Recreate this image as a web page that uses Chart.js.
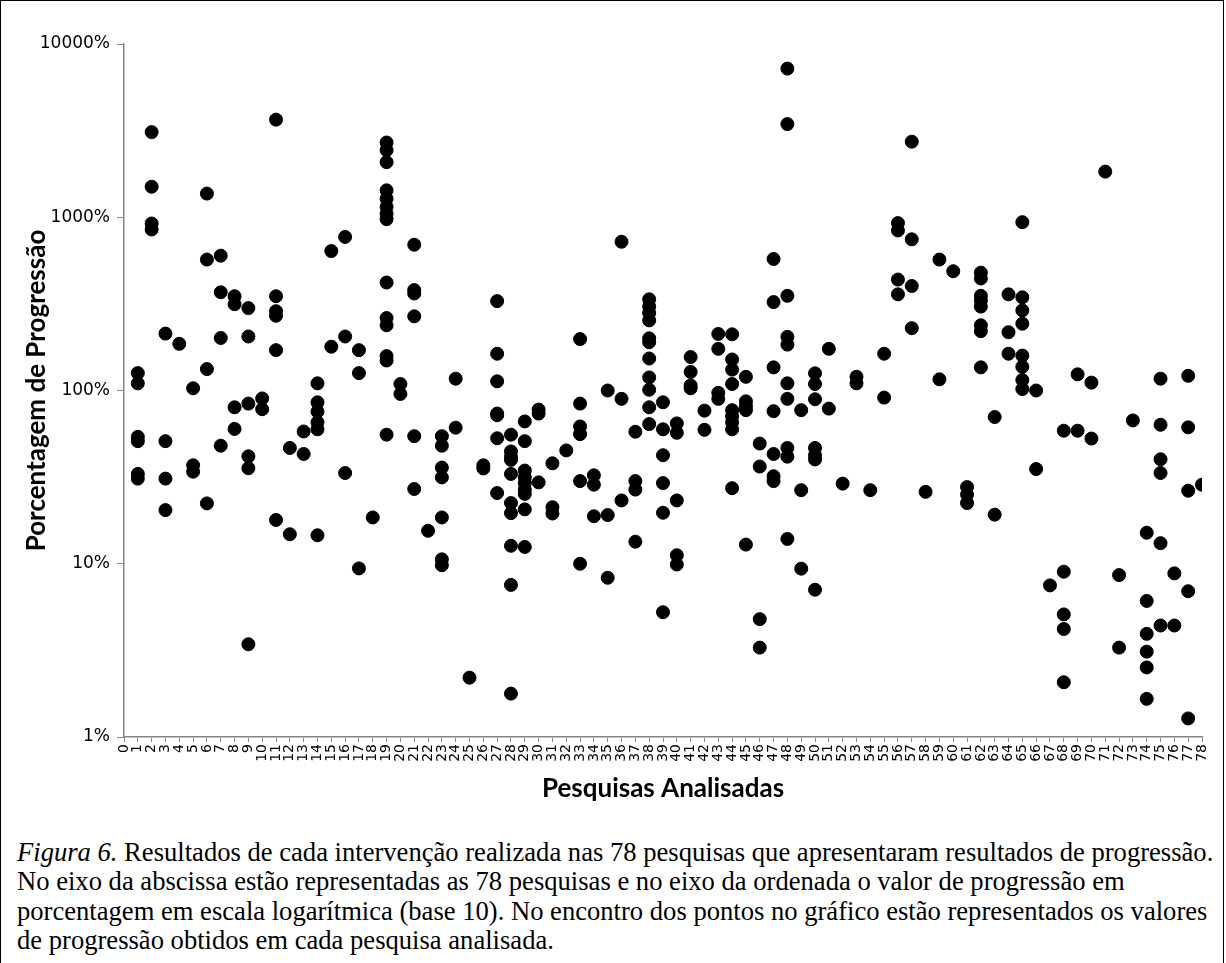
<!DOCTYPE html>
<html>
<head>
<meta charset="utf-8">
<script src="https://cdn.jsdelivr.net/npm/chart.js@4.4.0/dist/chart.umd.min.js"></script>
<style>
body { margin: 0; width: 1226px; height: 963px; overflow: hidden; background: #fff; position: relative; }
#frame { position: absolute; left: 0; top: 0; width: 1222px; height: 980px; border: 1.5px solid #000; }
#chart1 { position: absolute; left: 0; top: 0; }
#caption { position: absolute; left: 17px; top: 838px; font-family: "Liberation Serif", "Times New Roman", serif;
  font-size: 26.6px; line-height: 29.3px; white-space: nowrap; color: #000; }
</style>
</head>
<body>
<div id="frame"></div>
<canvas id="chart1" width="1226" height="810"></canvas>
<div id="caption"><i>Figura 6.</i> Resultados de cada intervenção realizada nas 78 pesquisas que apresentaram resultados de progressão.<br>No eixo da abscissa estão representadas as 78 pesquisas e no eixo da ordenada o valor de progressão em<br>porcentagem em escala logarítmica (base 10). No encontro dos pontos no gráfico estão representados os valores<br>de progressão obtidos em cada pesquisa analisada.</div>
<script>
// valores de progressao (%), indice = numero da pesquisa
const progressao = [
  [],
  [126, 110, 54, 51, 33, 31],
  [3100, 1500, 920, 850],
  [213, 51, 31, 20.4],
  [186],
  [103, 37, 34],
  [1370, 570, 133, 22.3],
  [600, 369, 201, 48],
  [350, 315, 80, 60],
  [299, 205, 84, 41.7, 35.6, 3.43],
  [90, 78],
  [3660, 350, 287, 270, 171, 17.9],
  [46.6, 14.8],
  [58, 43],
  [110, 85.5, 75.5, 65.5, 59.7, 14.6],
  [638, 179],
  [770, 205, 33.4],
  [171, 126, 9.4],
  [18.5],
  [2700, 2440, 2080, 1430, 1280, 1150, 1050, 975, 420, 262, 238, 158, 149, 55.6],
  [109, 95.5],
  [694, 380, 363, 268, 54.5, 27],
  [15.5],
  [54.5, 48, 35.9, 31.5, 18.5, 10.6, 9.8],
  [117, 61],
  [2.2],
  [37, 35.5],
  [328, 163, 113, 73.6, 72, 53, 25.6],
  [55.6, 44.5, 41.5, 39.8, 33, 22.4, 19.6, 12.7, 7.55, 1.78],
  [66.3, 51, 34.5, 31.5, 29.2, 26.8, 25.3, 20.6, 12.5],
  [77.6, 73.6, 29.5],
  [38, 21.2, 19.5],
  [45.1],
  [198, 84, 62, 56, 30, 10],
  [32.4, 28.6, 18.8],
  [100, 19.1, 8.3],
  [722, 89.5, 23.2],
  [57.8, 30, 26.8, 13.4],
  [336, 305, 280, 254, 200, 190, 153, 119, 101, 80, 64],
  [85.5, 59.7, 42.3, 29.2, 19.7, 5.25],
  [64.6, 57, 23.2, 11.2, 9.9],
  [156, 128, 107, 103],
  [76.5, 59.3],
  [212, 174, 97, 89.5],
  [211, 151, 132, 109, 77, 71, 65.5, 59.7, 27.3],
  [120, 86.6, 81.2, 77, 12.9],
  [49.4, 36.4, 4.79, 3.28],
  [574, 324, 136, 76, 43, 32, 30],
  [7210, 3450, 352, 204, 184, 110, 89.5, 46.6, 41.5, 13.9],
  [77, 26.6, 9.37],
  [125.6, 109, 89, 46.6, 42.3, 40, 7.08],
  [174, 78.6],
  [29],
  [120, 110],
  [26.6],
  [163, 91],
  [925, 839, 437, 359],
  [2730, 746, 401, 229],
  [26],
  [570, 116],
  [488],
  [27.7, 25.1, 22.4],
  [479, 443, 352, 330, 305, 238, 220, 136],
  [70.3, 19.2],
  [359, 217, 163],
  [937, 345, 290, 243, 159, 137, 115, 102],
  [100, 35.2],
  [7.5],
  [58.6, 9.0, 5.1, 4.2, 2.07],
  [124, 58.6],
  [111, 52.8],
  [1834],
  [8.6, 3.28],
  [67.2],
  [15.1, 6.1, 3.94, 3.11, 2.52, 1.66],
  [117, 63.4, 40.1, 33.4, 13.15, 4.4],
  [8.8, 4.4],
  [121.6, 61.3, 26.4, 6.94, 1.28],
  [28.6]
];
const yTicks = [1, 10, 100, 1000, 10000];
const xTitle = 'Pesquisas Analisadas';
const yTitle = 'Porcentagem de Progressão';

let pontos = [];
progressao.forEach((vals, pesquisa) => {
  vals.forEach(v => pontos.push({x: pesquisa, y: v}));
});

const axisGray = '#868686';
const ctx = document.getElementById('chart1').getContext('2d');
const chart = new Chart(ctx, {
  type: 'scatter',
  data: {
    datasets: [{
      data: pontos,
      backgroundColor: '#000',
      borderColor: '#000',
      pointRadius: 6.5,
      pointHoverRadius: 6.5
    }]
  },
  options: {
    responsive: false,
    animation: false,
    layout: {padding: {left: 0, right: 24, top: 44, bottom: 0}},
    plugins: {legend: {display: false}, tooltip: {enabled: false}},
    scales: {
      x: {
        type: 'linear',
        min: 0,
        max: 78,
        afterFit: s => { s.height = 73; },
        ticks: {
          stepSize: 1, maxTicksLimit: 100, autoSkip: false,
          minRotation: 90, maxRotation: 90, padding: 2,
          color: '#000', font: {family: 'DejaVu Sans', size: 14}
        },
        grid: {drawOnChartArea: false, color: axisGray, tickLength: 5},
        border: {color: axisGray, width: 1.5},
        title: {
          display: true, text: xTitle, color: '#000',
          font: {family: 'Lato', weight: 'bold', size: 26},
          padding: {top: 0, bottom: 6}
        }
      },
      y: {
        type: 'logarithmic',
        min: 1,
        max: 10000,
        afterBuildTicks: s => { s.ticks = yTicks.map(v => ({value: v})); },
        afterFit: s => { s.width = 124; },
        ticks: {
          callback: v => v + '%', padding: 7,
          color: '#000', font: {family: 'DejaVu Sans', size: 17}
        },
        grid: {drawOnChartArea: false, color: axisGray, tickLength: 7},
        border: {color: axisGray, width: 1.5},
        title: {
          display: true, text: yTitle, color: '#000',
          font: {family: 'Lato', weight: 'bold', size: 26},
          padding: {top: 21, bottom: 0}
        }
      }
    }
  }
});
</script>
</body>
</html>
